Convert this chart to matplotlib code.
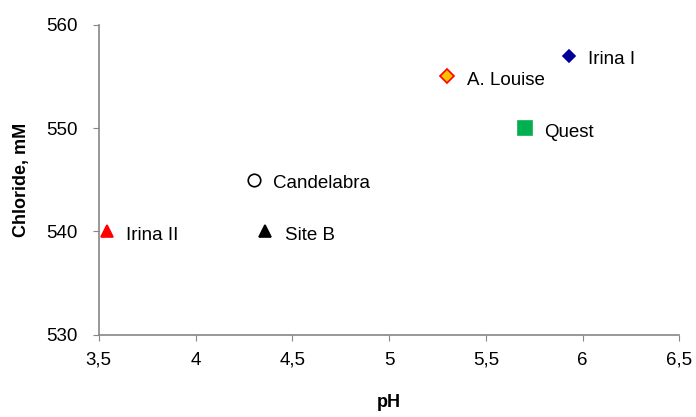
import matplotlib.pyplot as plt
from matplotlib.ticker import FuncFormatter

plt.rcParams['font.family'] = ['Liberation Sans', 'DejaVu Sans']

# sites: pH vs chloride
sites = ['Irina II', 'Site B', 'Candelabra', 'A. Louise', 'Quest', 'Irina I']
ph = [3.54, 4.36, 4.30, 5.30, 5.70, 5.93]
chloride = [540, 540, 545, 555, 550, 557]

markers = ['^', '^', 'o', 'D', 's', 'D']
faces = ['#ff0000', '#000000', 'white', '#ffc000', '#00b050', '#000099']
edges = ['#ff0000', '#000000', '#000000', '#ff0000', '#00b050', '#000099']
sizes = [9, 9, 9, 7, 10, 6]

fig = plt.figure(figsize=(6.96, 4.17), dpi=100)
ax = fig.add_axes([0.142, 0.197, 0.834, 0.744])

for i in range(len(sites)):
    ax.plot(ph[i], chloride[i], marker=markers[i], ms=sizes[i],
            mfc=faces[i], mec=edges[i], mew=1.2, ls='none', clip_on=False)
    ax.annotate(sites[i], (ph[i], chloride[i]), xytext=(14, -3),
                textcoords='offset points', va='center', fontsize=13.5)

ax.set_xlim(3.5, 6.5)
ax.set_ylim(530, 560)
ax.set_xticks([3.5, 4, 4.5, 5, 5.5, 6, 6.5])
ax.set_yticks([530, 540, 550, 560])
ax.xaxis.set_major_formatter(FuncFormatter(lambda v, p: ('%g' % v).replace('.', ',')))

for s in ['top', 'right']:
    ax.spines[s].set_visible(False)
for s in ['left', 'bottom']:
    ax.spines[s].set_color('#868686')
    ax.spines[s].set_linewidth(1.2)
ax.tick_params(direction='out', length=4, color='#868686', labelsize=13.5, pad=8)
ax.tick_params(axis='y', pad=11)

ax.set_xlabel('pH', fontweight='bold', fontsize=13, labelpad=18)
ax.set_ylabel('Chloride, mM', fontweight='bold', fontsize=13, labelpad=12)

fig.savefig('out.png')
